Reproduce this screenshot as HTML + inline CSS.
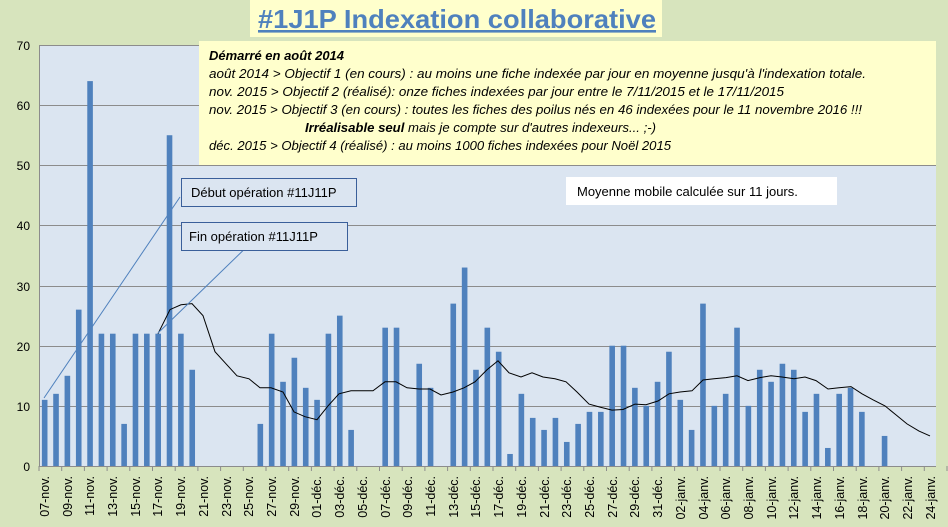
<!DOCTYPE html>
<html><head><meta charset="utf-8"><style>
html,body{margin:0;padding:0;background:#d7e4bd;}
svg{display:block;font-family:"Liberation Sans",sans-serif;}
</style></head><body>
<svg id="s" width="948" height="527" viewBox="0 0 948 527" xmlns="http://www.w3.org/2000/svg">
<rect width="948" height="527" fill="#d7e4bd"/>
<rect x="39" y="45" width="897" height="421" fill="#dbe5f1"/>
<g stroke="#8c8c8c" stroke-width="1">
<line x1="39" y1="45.5" x2="936" y2="45.5"/><line x1="39" y1="105.5" x2="936" y2="105.5"/>
<line x1="39" y1="165.5" x2="936" y2="165.5"/><line x1="39" y1="225.5" x2="936" y2="225.5"/>
<line x1="39" y1="286.5" x2="936" y2="286.5"/><line x1="39" y1="346.5" x2="936" y2="346.5"/>
<line x1="39" y1="406.5" x2="936" y2="406.5"/><line x1="39" y1="466.5" x2="936" y2="466.5"/>
<line x1="39.5" y1="45" x2="39.5" y2="466"/>
</g>
<g font-size="12" fill="#000" text-anchor="end">
<text x="30" y="50">70</text><text x="30" y="110">60</text><text x="30" y="170">50</text>
<text x="30" y="230">40</text><text x="30" y="291">30</text><text x="30" y="351">20</text>
<text x="30" y="411">10</text><text x="30" y="471">0</text>
</g>
<g id="bars" fill="#4f81bd"></g>
<g id="ticks" stroke="#8c8c8c"></g>
<polyline id="ma" fill="none" stroke="#000" stroke-width="1"/>
<g font-size="12.5" fill="#000" text-anchor="end" id="xl">
<text transform="translate(49,476) rotate(-90)">07-nov.</text>
<text transform="translate(72,476) rotate(-90)">09-nov.</text>
<text transform="translate(94,476) rotate(-90)">11-nov.</text>
<text transform="translate(117,476) rotate(-90)">13-nov.</text>
<text transform="translate(140,476) rotate(-90)">15-nov.</text>
<text transform="translate(162,476) rotate(-90)">17-nov.</text>
<text transform="translate(185,476) rotate(-90)">19-nov.</text>
<text transform="translate(208,476) rotate(-90)">21-nov.</text>
<text transform="translate(231,476) rotate(-90)">23-nov.</text>
<text transform="translate(253,476) rotate(-90)">25-nov.</text>
<text transform="translate(276,476) rotate(-90)">27-nov.</text>
<text transform="translate(299,476) rotate(-90)">29-nov.</text>
<text transform="translate(321,476) rotate(-90)">01-déc.</text>
<text transform="translate(344,476) rotate(-90)">03-déc.</text>
<text transform="translate(367,476) rotate(-90)">05-déc.</text>
<text transform="translate(390,476) rotate(-90)">07-déc.</text>
<text transform="translate(412,476) rotate(-90)">09-déc.</text>
<text transform="translate(435,476) rotate(-90)">11-déc.</text>
<text transform="translate(458,476) rotate(-90)">13-déc.</text>
<text transform="translate(480,476) rotate(-90)">15-déc.</text>
<text transform="translate(503,476) rotate(-90)">17-déc.</text>
<text transform="translate(526,476) rotate(-90)">19-déc.</text>
<text transform="translate(549,476) rotate(-90)">21-déc.</text>
<text transform="translate(571,476) rotate(-90)">23-déc.</text>
<text transform="translate(594,476) rotate(-90)">25-déc.</text>
<text transform="translate(617,476) rotate(-90)">27-déc.</text>
<text transform="translate(639,476) rotate(-90)">29-déc.</text>
<text transform="translate(662,476) rotate(-90)">31-déc.</text>
<text transform="translate(685,476) rotate(-90)">02-janv.</text>
<text transform="translate(708,476) rotate(-90)">04-janv.</text>
<text transform="translate(730,476) rotate(-90)">06-janv.</text>
<text transform="translate(753,476) rotate(-90)">08-janv.</text>
<text transform="translate(776,476) rotate(-90)">10-janv.</text>
<text transform="translate(798,476) rotate(-90)">12-janv.</text>
<text transform="translate(821,476) rotate(-90)">14-janv.</text>
<text transform="translate(844,476) rotate(-90)">16-janv.</text>
<text transform="translate(867,476) rotate(-90)">18-janv.</text>
<text transform="translate(889,476) rotate(-90)">20-janv.</text>
<text transform="translate(912,476) rotate(-90)">22-janv.</text>
<text transform="translate(935,476) rotate(-90)">24-janv.</text>
</g>
<!-- title -->
<rect x="250" y="0" width="412" height="37" fill="#ffffcc"/>
<text x="258" y="28" font-size="26" font-weight="bold" fill="#4f81bd" text-decoration="underline" textLength="398" lengthAdjust="spacingAndGlyphs">#1J1P Indexation collaborative</text>
<!-- yellow box -->
<rect x="199" y="41" width="737" height="124" fill="#ffffcc"/>
<g font-size="12.5" font-style="italic" fill="#000">
<text x="209" y="60" font-weight="bold" textLength="135" lengthAdjust="spacingAndGlyphs">Démarré en août 2014</text>
<text x="209" y="78" textLength="657" lengthAdjust="spacingAndGlyphs">août 2014 &gt; Objectif  1 (en cours) : au moins une fiche indexée par jour en moyenne jusqu'à l'indexation totale.</text>
<text x="209" y="96" textLength="575" lengthAdjust="spacingAndGlyphs">nov. 2015 &gt; Objectif 2  (réalisé): onze fiches indexées par jour entre le 7/11/2015  et le 17/11/2015</text>
<text x="209" y="114" textLength="653" lengthAdjust="spacingAndGlyphs">nov. 2015 &gt; Objectif  3 (en cours) : toutes les fiches des poilus nés en 46 indexées pour le 11 novembre 2016  !!!</text>
<text x="305" y="132" textLength="351" lengthAdjust="spacingAndGlyphs"><tspan font-weight="bold">Irréalisable seul</tspan> mais je compte sur d'autres indexeurs... ;-)</text>
<text x="209" y="150" textLength="462" lengthAdjust="spacingAndGlyphs">déc. 2015 &gt; Objectif 4 (réalisé) : au moins 1000  fiches indexées pour Noël 2015</text>
</g>
<rect x="566" y="177" width="271" height="28" fill="#fff"/>
<text x="577" y="196" font-size="13">Moyenne mobile calculée sur 11 jours.</text>
<!-- callouts -->
<line x1="44" y1="398" x2="180" y2="197" stroke="#4f81bd" stroke-width="1"/>
<line x1="158" y1="333" x2="258" y2="236" stroke="#4f81bd" stroke-width="1"/>
<rect x="181.5" y="178.5" width="175" height="28" fill="#dbe5f1" stroke="#3a5f9a"/>
<text x="191" y="197" font-size="13">Début opération #11J11P</text>
<rect x="181.5" y="222.5" width="166" height="28" fill="#dbe5f1" stroke="#3a5f9a"/>
<text x="189" y="241" font-size="13">Fin opération #11J11P</text>
</svg>
<script>
var v=[11,12,15,26,64,22,22,7,22,22,22,55,22,16,0,0,0,0,0,7,22,14,18,13,
11,22,25,6,0,0,23,23,0,17,13,0,27,33,16,23,19,2,12,8,6,8,4,7,9,9,20,20,13,10,14,
19,11,6,27,10,12,23,10,16,14,17,16,9,12,3,12,13,9,0,5,0,0,0,0];
var ns="http://www.w3.org/2000/svg",g=document.getElementById('bars'),t=document.getElementById('ticks');
for(var i=0;i<v.length;i++){var c=39+11.35*(i+0.5);
if(v[i]>0){var r=document.createElementNS(ns,'rect');r.setAttribute('x',c-2.8);r.setAttribute('width',5.6);
r.setAttribute('y',466-6.014*v[i]);r.setAttribute('height',6.014*v[i]);g.appendChild(r);}}
for(var k=0;k<=40;k++){var x=39+22.7*k;var l=document.createElementNS(ns,'line');
l.setAttribute('x1',x);l.setAttribute('x2',x);l.setAttribute('y1',466);l.setAttribute('y2',471);t.appendChild(l);}
var m=[[158,22],[170,26],[181,26.8],[192,27],[203,25],[215,19],[226,17],[237,15],[249,14.5],[260,13],[271,13],[283,12.3],[294,9],[305,8.2],[317,7.7],[328,10],[339,12],[351,12.5],[362,12.5],[373,12.5],[385,14],[396,14],[407,13],[419,12.8],[430,12.8],[441,11.8],[453,12.3],[464,13],[475,14],[487,16],[498,17.5],[509,15.5],[521,14.8],[532,15.5],[543,14.8],[555,14.5],[566,14],[577,12.3],[589,10.3],[600,9.8],[612,9.3],[623,9.4],[635,10.3],[646,10.2],[658,10.8],[669,12],[680,12.3],[692,12.5],[703,14.3],[714,14.5],[726,14.7],[737,15],[748,14.2],[760,14.7],[771,15],[782,14.8],[794,14.5],[805,14.8],[816,14.2],[828,12.8],[839,13],[851,13.2],[862,12],[873,11],[885,10],[896,8.5],[907,7],[919,5.8],[930,5]];
document.getElementById('ma').setAttribute('points',m.map(function(p){return p[0]+','+(466-6.014*p[1]).toFixed(1)}).join(' '));
</script>
</body></html>
